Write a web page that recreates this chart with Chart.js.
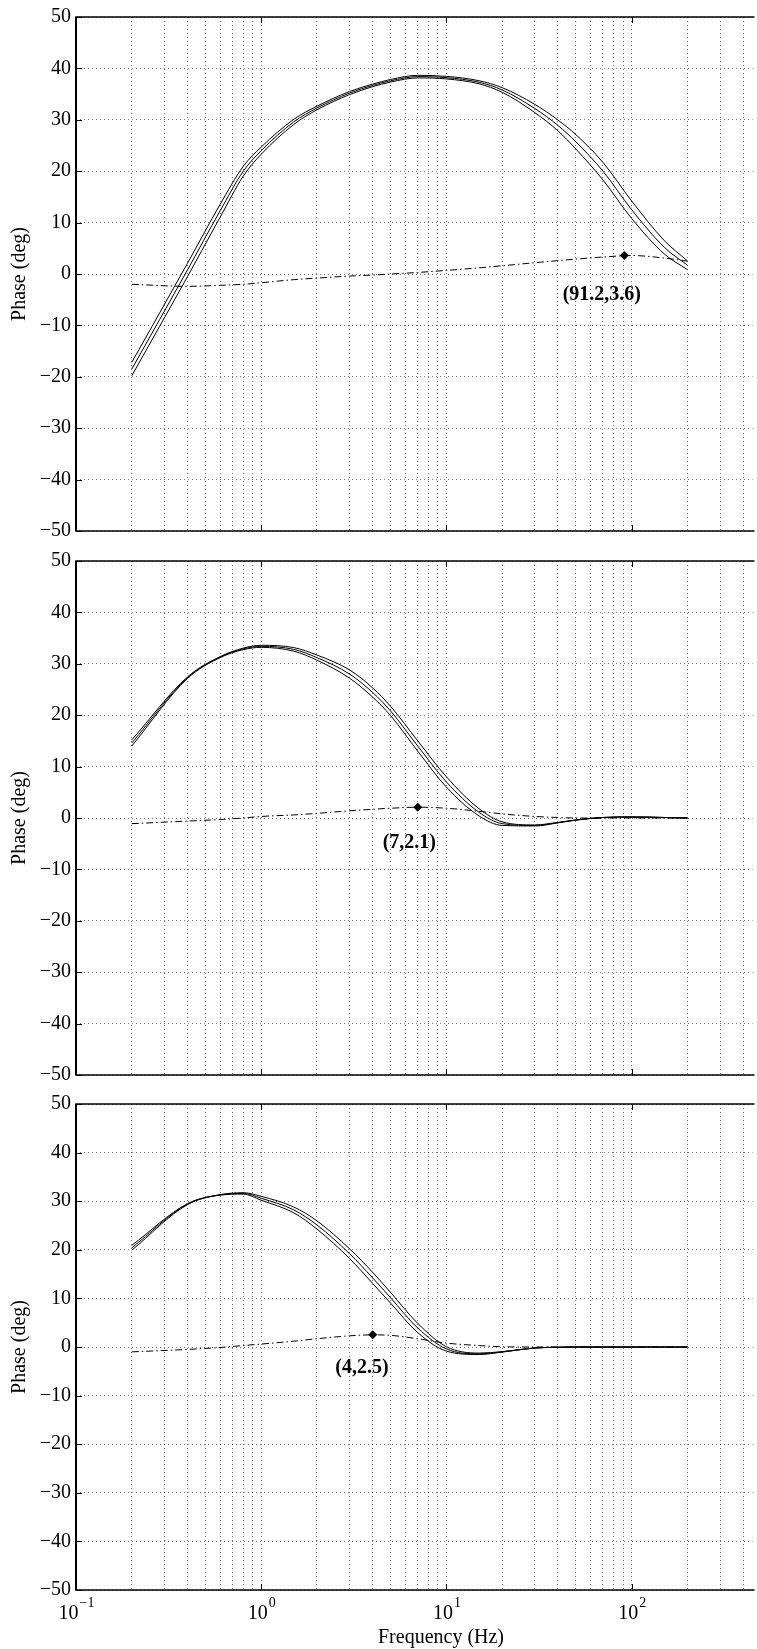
<!DOCTYPE html>
<html lang="en">
<head>
  <meta charset="UTF-8">
  <title>Phase (deg) vs Frequency (Hz)</title>
  <script src="https://cdn.jsdelivr.net/npm/chart.js"></script>
  <style>
    html, body { margin: 0; padding: 0; background: #fff; overflow: hidden; }
    body { width: 757px; height: 1649px; position: relative; }
    canvas { position: absolute; left: 0; }
  </style>
</head>
<body>

  <canvas id="chart1" width="757" height="548" style="top:0px"></canvas>
  <canvas id="chart2" width="757" height="548" style="top:544px"></canvas>
  <canvas id="chart3" width="757" height="562" style="top:1087px"></canvas>

<script>

// frequency samples (Hz), shared by all curves
const freq = [0.2, 0.4, 0.6, 0.8, 1, 1.5, 2, 3, 4, 5, 7, 10, 15, 20, 30, 40, 50, 70, 100, 150, 200];

// panel 1
const p1Upper = [-17.2, 2.1, 13.55, 20.95, 24.7, 30.1, 32.65, 35.5, 36.95, 37.85, 38.65, 38.45, 37.6, 36.25, 33.0, 29.95, 27.1, 21.7, 14.2, 6.5, 2.55];
const p1Mid   = [-18.5, 0.8, 12.3, 20.0, 24.0, 29.6, 32.3, 35.2, 36.7, 37.6, 38.4, 38.2, 37.3, 35.8, 32.2, 28.9, 25.7, 20.0, 12.5, 5.2, 1.7];
const p1Lower = [-19.8, -0.5, 11.05, 19.05, 23.3, 29.1, 31.95, 34.9, 36.45, 37.35, 38.15, 37.95, 37.0, 35.35, 31.4, 27.85, 24.3, 18.3, 10.8, 3.9, 0.85];
const p1Diff  = [-2.0, -2.4, -2.2, -2.0, -1.7, -1.1, -0.8, -0.4, -0.2, 0.0, 0.3, 0.7, 1.2, 1.6, 2.2, 2.6, 2.9, 3.3, 3.6, 3.1, 2.5];

// panel 2
const p2Upper = [15.2, 27.45, 31.4, 33.05, 33.6, 33.15, 31.7, 28.8, 25.3, 21.7, 15.0, 8.0, 1.8, -0.75, -1.35, -0.85, -0.4, 0.1, 0.2, 0.1, 0.0];
const p2Mid   = [14.6, 27.3, 31.3, 32.9, 33.4, 32.8, 31.2, 28.0, 24.4, 20.8, 14.0, 7.0, 1.1, -1.1, -1.45, -0.9, -0.4, 0.1, 0.2, 0.1, 0.0];
const p2Lower = [14.0, 27.15, 31.2, 32.75, 33.2, 32.45, 30.7, 27.2, 23.5, 19.9, 13.0, 6.0, 0.4, -1.45, -1.55, -0.95, -0.4, 0.1, 0.2, 0.1, 0.0];
const p2Diff  = [-1.1, -0.6, -0.3, 0.0, 0.3, 0.6, 0.9, 1.4, 1.7, 1.9, 2.1, 1.9, 1.3, 0.8, 0.3, 0.1, 0.0, 0.0, 0.0, 0.0, 0.0];

// panel 3
const p3Upper = [20.9, 29.5, 31.35, 31.75, 31.0, 28.8, 25.95, 20.2, 15.35, 11.2, 4.85, 0.05, -1.25, -0.95, -0.2, -0.05, 0, 0, 0, 0, 0];
const p3Mid   = [20.4, 29.4, 31.3, 31.6, 30.6, 28.2, 25.1, 19.2, 14.2, 10.1, 3.9, -0.4, -1.4, -1.0, -0.2, -0.05, 0, 0, 0, 0, 0];
const p3Lower = [19.9, 29.3, 31.25, 31.45, 30.2, 27.6, 24.25, 18.2, 13.05, 9.0, 2.95, -0.85, -1.55, -1.05, -0.2, -0.05, 0, 0, 0, 0, 0];
const p3Diff  = [-1.0, -0.5, -0.1, 0.3, 0.6, 1.2, 1.7, 2.3, 2.5, 2.4, 1.7, 0.8, 0.3, 0.05, 0, 0, 0, 0, 0, 0, 0];

// marked peak of the dash-dot curve in each panel
const peakFreq  = [91.2, 7, 4];
const peakPhase = [3.6, 2.1, 2.5];

// axes
const yTicks = [-50, -40, -30, -20, -10, 0, 10, 20, 30, 40, 50];
const decades = [0.1, 1, 10, 100];
const decadeExp = ['\u22121', '0', '1', '2'];
const xGrid = [0.1,0.2,0.3,0.4,0.5,0.6,0.7,0.8,0.9, 1,2,3,4,5,6,7,8,9, 10,20,30,40,50,60,70,80,90, 100,200,300,400];
const xMin = 0.1, xMax = 449;   // right part of the axis is cut off by the page edge

const serif = "'Liberation Serif', 'Times New Roman', serif";


// box, inward ticks, note text and (bottom panel) the x labels
const framePlugin = {
  id: 'frame',
  afterDraw(chart, args, opts) {
    const ctx = chart.ctx;
    const a = chart.chartArea;
    const x = chart.scales.x, y = chart.scales.y;
    ctx.save();
    ctx.strokeStyle = '#000';

    ctx.lineWidth = 1;
    ctx.beginPath();
    yTicks.forEach(v => {
      const py = Math.round(y.getPixelForValue(v)) + 0.5;
      ctx.moveTo(a.left, py); ctx.lineTo(a.left + 6, py);
    });
    decades.forEach(v => {
      const px = Math.round(x.getPixelForValue(v)) + 0.5;
      ctx.moveTo(px, a.top); ctx.lineTo(px, a.top + 6);
      ctx.moveTo(px, a.bottom); ctx.lineTo(px, a.bottom - 6);
    });
    ctx.stroke();

    ctx.lineWidth = 1.6;
    ctx.beginPath();
    ctx.moveTo(a.right + 2, a.top); ctx.lineTo(a.left, a.top);
    ctx.lineTo(a.left, a.bottom); ctx.lineTo(a.right + 2, a.bottom);
    ctx.stroke();
    ctx.lineWidth = 2;
    ctx.beginPath();
    ctx.moveTo(a.left, a.top); ctx.lineTo(a.left, a.bottom);
    ctx.stroke();

    // "(f,phase)" note under the marker
    const i = opts.panel;
    ctx.fillStyle = '#000';
    ctx.font = 'bold 20px ' + serif;
    ctx.textAlign = 'center';
    ctx.textBaseline = 'middle';
    ctx.fillText('(' + peakFreq[i] + ',' + peakPhase[i] + ')',
      x.getPixelForValue(opts.noteAt[0]), y.getPixelForValue(opts.noteAt[1]));

    if (opts.xLabels) {
      ctx.textBaseline = 'alphabetic';
      ctx.textAlign = 'left';
      decades.forEach((v, k) => {
        ctx.font = '20px ' + serif;
        const w1 = ctx.measureText('10').width;
        ctx.font = '14px ' + serif;
        const w2 = ctx.measureText(decadeExp[k]).width;
        const left = x.getPixelForValue(v) - (w1 + w2) / 2;
        ctx.font = '20px ' + serif;
        ctx.fillText('10', left, a.bottom + 29);
        ctx.font = '14px ' + serif;
        ctx.fillText(decadeExp[k], left + w1 + 1, a.bottom + 17);
      });
      ctx.font = '20px ' + serif;
      ctx.textAlign = 'center';
      ctx.textBaseline = 'middle';
      ctx.fillText('Frequency (Hz)', 441, a.bottom + 48);
    }
    ctx.restore();
  }
};


function line(values, dashed) {
  return {
    data: freq.map((f, k) => ({ x: f, y: values[k] })),
    borderColor: '#000',
    borderWidth: 1,
    borderDash: dashed ? [7, 3, 1.5, 3] : [],
    pointRadius: 0,
    cubicInterpolationMode: 'monotone',
    fill: false
  };
}

function buildChart(id, panel, curves, noteAt, bottomPad, showXLabels) {
  const datasets = curves.map((c, k) => line(c, k === 3));
  datasets.push({
    data: [{ x: peakFreq[panel], y: peakPhase[panel] }],
    showLine: false,
    pointStyle: 'rectRot',
    pointRadius: 4.5,
    backgroundColor: '#000',
    borderColor: '#000',
    borderWidth: 0
  });

  const config = {
    type: 'line',
    data: { datasets: datasets },
    plugins: [framePlugin],
    options: {
      responsive: false,
      animation: false,
      events: [],
      layout: { padding: { top: 16, left: 0, right: 0, bottom: 0 } },
      plugins: {
        legend: { display: false },
        tooltip: { enabled: false },
        frame: { panel: panel, noteAt: noteAt, xLabels: showXLabels }
      },
      scales: {
        x: {
          type: 'logarithmic',
          min: xMin,
          max: xMax,
          afterBuildTicks: s => { s.ticks = xGrid.map(v => ({ value: v })); },
          afterFit: s => { s.height = bottomPad; },
          ticks: { display: false, autoSkip: false },
          grid: { color: 'rgba(0,0,0,0.55)', lineWidth: 1, drawTicks: false },
          border: { display: false, dash: [1, 3] }
        },
        y: {
          min: -50,
          max: 50,
          afterBuildTicks: s => { s.ticks = yTicks.map(v => ({ value: v })); },
          afterFit: s => { s.width = 76; },
          ticks: {
            padding: 5,
            color: '#000',
            font: { family: serif, size: 20 },
            callback: v => (v < 0 ? '\u2212' + Math.abs(v) : String(v))
          },
          grid: { color: 'rgba(0,0,0,0.55)', lineWidth: 1, drawTicks: false },
          border: { display: false, dash: [1, 3] },
          title: {
            display: true,
            text: 'Phase (deg)',
            color: '#000',
            font: { family: serif, size: 20 },
            padding: { top: 8, bottom: 0 }
          }
        }
      }
    }
  };

  return new Chart(document.getElementById(id), config);
}

buildChart('chart1', 0, [p1Upper, p1Mid, p1Lower, p1Diff], [69, -4.0], 15, false);
buildChart('chart2', 1, [p2Upper, p2Mid, p2Lower, p2Diff], [6.3, -4.8], 16, false);
buildChart('chart3', 2, [p3Upper, p3Mid, p3Lower, p3Diff], [3.5, -4.2], 59, true);

</script>
</body>
</html>
